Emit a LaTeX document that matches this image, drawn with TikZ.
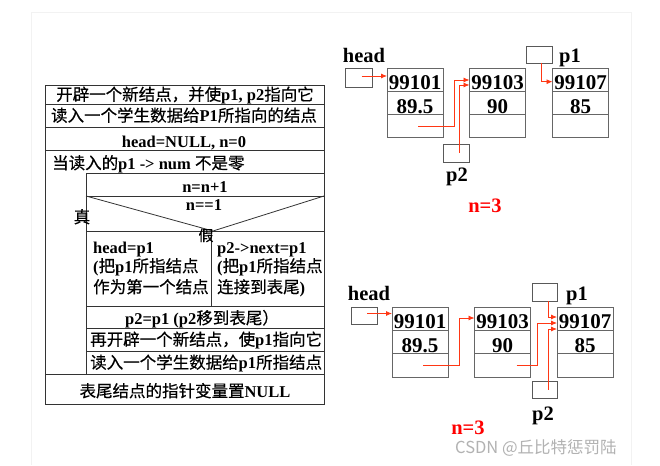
\documentclass[tikz,border=0pt]{standalone}
\usepackage{fontspec}
\setmainfont{Liberation Serif}
\newfontfamily\cjk[FakeBold=0.4]{Noto Sans CJK SC}
\newfontfamily\cjkwm{Noto Sans CJK SC}
\usetikzlibrary{arrows.meta}
\newcommand\zh[1]{{\cjk\mdseries #1}}
\definecolor{linkred}{RGB}{255,55,20}
\definecolor{nred}{RGB}{255,0,0}
\newcommand\lnode[4]{%
  \node[cell, anchor=north] (#1a) at #2 {#3};
  \node[cell, anchor=north] (#1b) at (#1a.south) {#4};
  \node[cell, anchor=north] (#1c) at (#1b.south) {};
}
\begin{document}
\begin{tikzpicture}[x=1pt,y=-1pt,
  chart/.style={draw=black!80, line width=0.8pt},
  ctext/.style={font=\fontsize{16.5}{18}\selectfont\bfseries, inner sep=0pt},
  cell/.style={draw=black!60, line width=0.8pt, inner sep=0pt, outer sep=0pt,
    minimum width=56pt, text height=21.8pt, text depth=1.5pt,
    font=\fontsize{21}{24}\selectfont\bfseries},
  ptrbox/.style={draw=black!65, line width=0.8pt, inner sep=0pt, outer sep=0pt},
  lbl/.style={font=\fontsize{20.5}{24}\selectfont\bfseries, inner sep=0pt},
  nlbl/.style={lbl, text=nred},
  link/.style={draw=linkred, line width=0.8pt, -{Latex[length=6pt,width=5pt]}},
  wm/.style={font=\cjkwm\fontsize{16.5}{18}\selectfont, text=gray!60, inner sep=0pt}
]
\useasboundingbox (0,0) rectangle (660,465);
\fill[white] (0,0) rectangle (660,465);
% faint page frame
\draw[gray!10, line width=0.6pt] (31,465) -- (31,12) -- (631,12) -- (631,465);

% ---------------- N-S flow chart ----------------
\draw[chart] (45,85) rectangle (324,404);
\draw[chart] (45,104) -- (324,104);
\draw[chart] (45,127) -- (324,127);
\draw[chart] (45,150) -- (324,150);
\draw[chart] (86,173) -- (324,173);
\draw[chart] (86,173) -- (86,374);
\draw[chart] (86,196) -- (324,196);
\draw[chart] (86,196) -- (213,231) -- (324,196);
\draw[chart] (86,231) -- (324,231);
\draw[chart] (211,231) -- (211,306);
\draw[chart] (86,306) -- (324,306);
\draw[chart] (86,328) -- (324,328);
\draw[chart] (86,351) -- (324,351);
\draw[chart] (45,374) -- (324,374);

\node[ctext, anchor=base] (r1) at (185,100.5) {\zh{开辟一个新结点，并使}p1, p2\zh{指向它}};
\node[ctext, anchor=base] (r2) at (184,121.5) {\zh{读入一个学生数据给}P1\zh{所指向的结点}};
\node[ctext, anchor=base] (r3) at (184,148) {head=NULL, n=0};
\node[ctext, anchor=base west] (r4) at (52,169) {\zh{当读入的}p1 -> num \zh{不是零}};
\node[ctext, anchor=base] (r5) at (205,192) {n=n+1};
\node[ctext, anchor=base] (r6) at (204,210) {n==1};
\node[ctext, anchor=base] (yes) at (82,223) {\zh{真}};
\node[ctext, anchor=base, font=\fontsize{15}{16}\selectfont] (no) at (206,241) {\zh{假}};
\node[ctext, anchor=base west] (la) at (93,253) {head=p1};
\node[ctext, anchor=base west] (lb) at (93,272) {(\zh{把}p1\zh{所指结点}};
\node[ctext, anchor=base west] (lc) at (93,293) {\zh{作为第一个结点}};
\node[ctext, anchor=base west] (ra) at (217,253) {p2->next=p1};
\node[ctext, anchor=base west] (rb) at (217,272) {(\zh{把}p1\zh{所指结点}};
\node[ctext, anchor=base west] (rc) at (217,293) {\zh{连接到表尾})};
\node[ctext, anchor=base] (r7) at (202,324) {p2=p1 (p2\zh{移到表尾）}};
\node[ctext, anchor=base west] (r8) at (90,345.5) {\zh{再开辟一个新结点，使}p1\zh{指向它}};
\node[ctext, anchor=base west] (r9) at (90,368.5) {\zh{读入一个学生数据给}p1\zh{所指结点}};
\node[ctext, anchor=base] (r10) at (185,397) {\zh{表尾结点的指针变量置}NULL};

% ---------------- top linked list ----------------
\lnode{t1}{(415,68)}{99101}{89.5}
\lnode{t2}{(497.5,68)}{99103}{90}
\lnode{t3}{(580.5,68)}{99107}{85}
\node[ptrbox, minimum width=27pt, minimum height=19pt] (th) at (358.5,77.5) {};
\node[ptrbox, minimum width=26pt, minimum height=17pt] (tp1) at (539,54.5) {};
\node[ptrbox, minimum width=26pt, minimum height=18pt] (tp2) at (456,153) {};
\node[lbl, anchor=base] (thl) at (364,63) {head};
\node[lbl, anchor=base] (tp1l) at (570,63) {p1};
\node[lbl, anchor=base] (tp2l) at (457,181.5) {p2};
\node[nlbl, anchor=base] (tn) at (485,212) {n=3};

\coordinate (tk1) at (454,80);
\coordinate (tk2) at (459,85);
\coordinate (tk3) at (541.7,81.7);
\draw[link] ([xshift=3pt,yshift=1.5pt]th.center) -- ([yshift=1.5pt]th.center -| t1a.west);
\draw[link] ([xshift=3pt]t1c.center) -| (tk1) -- (tk1 -| t2a.west);
\draw[link] ([xshift=3pt]tp2.center) -- (tk2) -- (tk2 -| t2a.west);
\draw[link] (tp1.south -| tk3) -- (tk3) -- (tk3 -| t3a.west);

% ---------------- bottom linked list ----------------
\lnode{b1}{(420,307)}{99101}{89.5}
\lnode{b2}{(502.5,307)}{99103}{90}
\lnode{b3}{(585,307)}{99107}{85}
\node[ptrbox, minimum width=26pt, minimum height=17pt] (bh) at (364,315.5) {};
\node[ptrbox, minimum width=25pt, minimum height=18pt] (bp1) at (544.5,292) {};
\node[ptrbox, minimum width=25pt, minimum height=17pt] (bp2) at (544.5,389.5) {};
\node[lbl, anchor=base] (bhl) at (369,300) {head};
\node[lbl, anchor=base] (bp1l) at (577,300.5) {p1};
\node[lbl, anchor=base] (bp2l) at (543,420) {p2};
\node[nlbl, anchor=base] (bn) at (468,434.5) {n=3};

\coordinate (bk1) at (459,318);
\coordinate (bk2) at (537,323);
\coordinate (bk3) at (548,317);
\coordinate (bk4) at (548,329);
\draw[link] ([xshift=3pt,yshift=2pt]bh.center) -- ([yshift=2pt]bh.center -| b1a.west);
\draw[link] ([xshift=3pt]b1c.center) -| (bk1) -- (bk1 -| b2a.west);
\draw[link] ([xshift=14pt]b2c.center) -| (bk2) -- (bk2 -| b3a.west);
\draw[link] (bp1.south -| bk3) -- (bk3) -- (bk3 -| b3a.west);
\draw[link] ([xshift=3.5pt]bp2.center) -- (bk4) -- (bk4 -| b3a.west);

% watermark
\node[wm, anchor=base west] (wmk) at (455,453.5) {CSDN @丘比特惩罚陆};
\end{tikzpicture}
\end{document}
